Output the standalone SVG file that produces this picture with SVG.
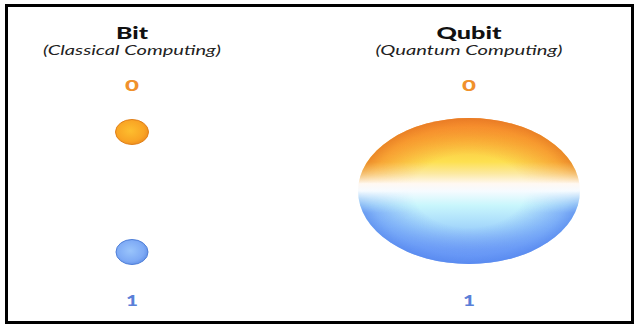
<svg xmlns="http://www.w3.org/2000/svg" width="637" height="326" viewBox="0 0 637 326">
<defs>
<style>
text{font-family:Lato,"Liberation Sans",sans-serif;text-anchor:middle}
.title{font-weight:900;font-size:17px;fill:#111}
.sub{font-style:italic;font-size:13.5px;fill:#222}
.zero{font-weight:900;font-size:15px;fill:#f0912c}
.one{font-weight:900;font-size:15px;fill:#5a7fd8}
</style>
<radialGradient id="gOr" cx="0.45" cy="0.45" r="0.6">
<stop offset="0" stop-color="#fdbe2e"/>
<stop offset="0.7" stop-color="#f9a424"/>
<stop offset="1" stop-color="#ec8a1c"/>
</radialGradient>
<radialGradient id="gBl" cx="0.45" cy="0.45" r="0.6">
<stop offset="0" stop-color="#99c4fb"/>
<stop offset="0.7" stop-color="#7eaaf5"/>
<stop offset="1" stop-color="#5f8ee6"/>
</radialGradient>
<linearGradient id="gQ" x1="0" y1="0" x2="0" y2="1">
<stop offset="0" stop-color="#f7963a"/>
<stop offset="0.15" stop-color="#fbbf3e"/>
<stop offset="0.3" stop-color="#fde050"/>
<stop offset="0.38" stop-color="#fce9a0"/>
<stop offset="0.45" stop-color="#fff8f2"/>
<stop offset="0.5" stop-color="#f6fbff"/>
<stop offset="0.6" stop-color="#c8f6fc"/>
<stop offset="0.75" stop-color="#a3d6fb"/>
<stop offset="0.9" stop-color="#7daaf7"/>
<stop offset="1" stop-color="#6f9cf5"/>
</linearGradient>
<radialGradient id="gEdgeT" cx="0.5" cy="0.5" r="0.5">
<stop offset="0.5" stop-color="#f47f24" stop-opacity="0"/>
<stop offset="0.88" stop-color="#f47f24" stop-opacity="0.6"/>
<stop offset="1" stop-color="#e57420" stop-opacity="0.8"/>
</radialGradient>
<radialGradient id="gEdgeB" cx="0.5" cy="0.5" r="0.5">
<stop offset="0.5" stop-color="#5d8ff5" stop-opacity="0"/>
<stop offset="0.88" stop-color="#5d8ff5" stop-opacity="0.6"/>
<stop offset="1" stop-color="#5486ee" stop-opacity="0.8"/>
</radialGradient>
<linearGradient id="mTopG" x1="0" y1="0" x2="0" y2="1">
<stop offset="0" stop-color="#fff"/>
<stop offset="0.3" stop-color="#fff"/>
<stop offset="0.45" stop-color="#000"/>
<stop offset="1" stop-color="#000"/>
</linearGradient>
<linearGradient id="mBotG" x1="0" y1="0" x2="0" y2="1">
<stop offset="0" stop-color="#000"/>
<stop offset="0.5" stop-color="#000"/>
<stop offset="0.65" stop-color="#fff"/>
<stop offset="1" stop-color="#fff"/>
</linearGradient>
<mask id="mTop" maskUnits="userSpaceOnUse" x="350" y="110" width="240" height="165"><rect x="350" y="118" width="240" height="146" fill="url(#mTopG)"/></mask>
<mask id="mBot" maskUnits="userSpaceOnUse" x="350" y="110" width="240" height="165"><rect x="350" y="118" width="240" height="146" fill="url(#mBotG)"/></mask>
</defs>
<rect x="0" y="0" width="637" height="326" fill="#fff"/>
<rect x="6.5" y="5.5" width="626" height="317" fill="none" stroke="#000" stroke-width="3"/>
<g id="bit-header">
<text class="title" x="132" y="39" textLength="32" lengthAdjust="spacingAndGlyphs">Bit</text>
<text class="sub" x="132" y="55" textLength="178" lengthAdjust="spacingAndGlyphs">(Classical Computing)</text>
</g>
<g id="qubit-header">
<text class="title" x="469" y="39" textLength="65" lengthAdjust="spacingAndGlyphs">Qubit</text>
<text class="sub" x="469" y="55" textLength="187" lengthAdjust="spacingAndGlyphs">(Quantum Computing)</text>
</g>
<g id="bit-0">
<text class="zero" x="132" y="91" textLength="14" lengthAdjust="spacingAndGlyphs">0</text>
<ellipse cx="132" cy="132" rx="16.5" ry="12.5" fill="url(#gOr)" stroke="#e0801a" stroke-width="1"/>
</g>
<g id="bit-1">
<ellipse cx="132" cy="252" rx="16" ry="12.5" fill="url(#gBl)" stroke="#4f7fd8" stroke-width="1"/>
<text class="one" x="132" y="306" textLength="12" lengthAdjust="spacingAndGlyphs">1</text>
</g>
<g id="qubit">
<text class="zero" x="469" y="91" textLength="14" lengthAdjust="spacingAndGlyphs">0</text>
<ellipse cx="469" cy="191" rx="111" ry="73" fill="url(#gQ)"/>
<ellipse cx="469" cy="191" rx="111" ry="73" fill="url(#gEdgeT)" mask="url(#mTop)"/>
<ellipse cx="469" cy="191" rx="111" ry="73" fill="url(#gEdgeB)" mask="url(#mBot)"/>
<text class="one" x="469" y="306" textLength="12" lengthAdjust="spacingAndGlyphs">1</text>
</g>
<g id="connectors"/>
</svg>
